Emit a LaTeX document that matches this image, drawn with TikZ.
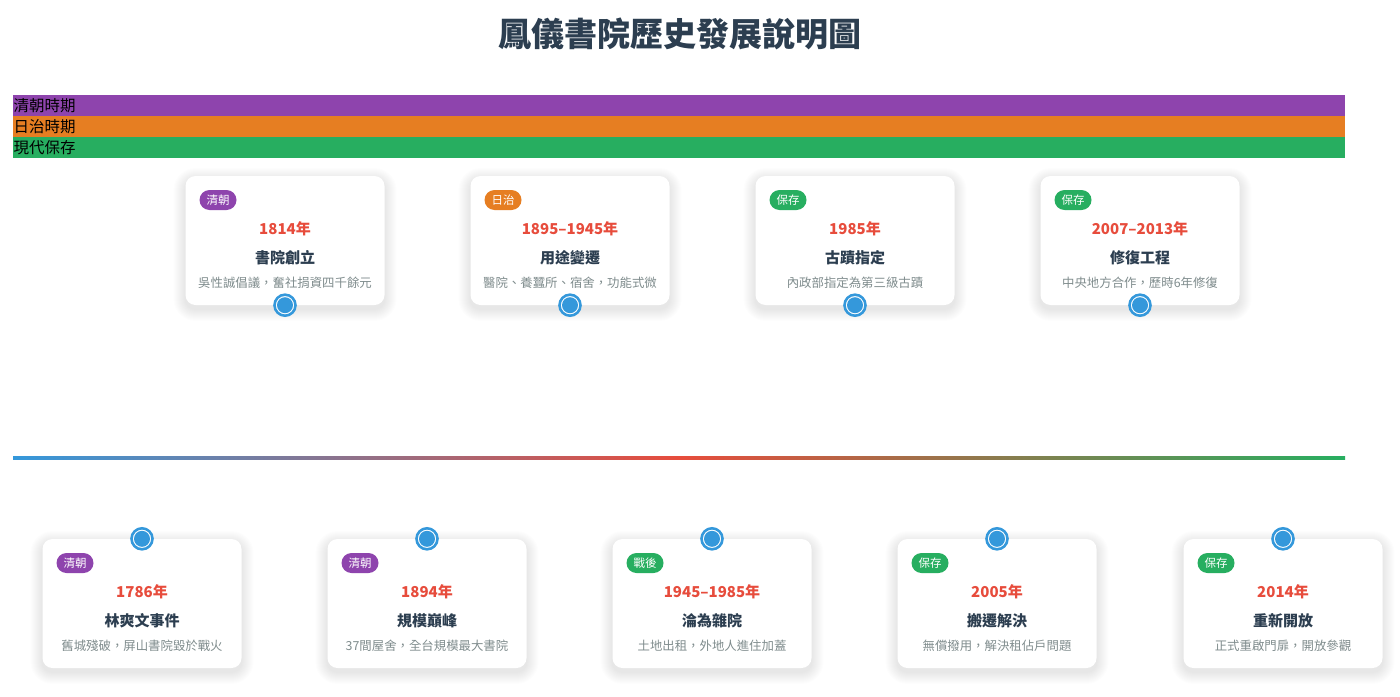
\documentclass[tikz,border=0pt]{standalone}
\usepackage{fontspec}
\setmainfont{Noto Sans CJK TC}
\definecolor{navy}{HTML}{2C3E50}
\definecolor{qpurple}{HTML}{8E44AD}
\definecolor{jorange}{HTML}{E67E22}
\definecolor{mgreen}{HTML}{27AE60}
\definecolor{yred}{HTML}{E74C3C}
\definecolor{dotblue}{HTML}{3498DB}
\definecolor{descgray}{HTML}{7F8C8D}
\tikzset{
  card/.style={fill=white, rounded corners=10pt, minimum width=199pt, minimum height=129pt, inner sep=0pt},
  shadowlayer/.style={fill=black, fill opacity=0.0065},
  badge/.style={rounded corners=10pt, minimum height=20pt, inner xsep=7pt, inner ysep=0pt, text=white,
    font=\fontsize{11.5}{12}\selectfont},
  yeartxt/.style={text=yred, font=\fontsize{15}{16}\selectfont\bfseries, inner sep=0pt},
  titletxt/.style={text=navy, font=\fontsize{15}{16}\selectfont\bfseries, inner sep=0pt},
  desctxt/.style={text=descgray, font=\fontsize{12.4}{13}\selectfont, inner sep=0pt},
  bandtxt/.style={text=black, font=\fontsize{15.5}{16}\selectfont, inner sep=0pt, anchor=west},
  dot/.style={circle, draw=dotblue, line width=2.6pt, fill=white, minimum size=21pt, inner sep=0pt,
    path picture={\fill[dotblue] (path picture bounding box.center) circle (8pt);}},
}
\newcommand\evcard[8]{%
  \foreach \i in {1,...,12} {
    \fill[shadowlayer, rounded corners=10pt+\i pt] (#2-99.5-\i, #3-\i+4) rectangle (#2+99.5+\i, #3+129+\i+4);
  }
  \node[card] (#1) at (#2, #3+64.5) {};
  \node[badge, fill=#4] (#1b) at (#2-67, #3+24) {#5};
  \node[yeartxt] (#1y) at (#2, #3+52.5) {#6};
  \node[titletxt] (#1t) at (#2, #3+82) {#7};
  \node[desctxt] (#1d) at (#2, #3+107) {#8};
}
\begin{document}
\begin{tikzpicture}[x=1pt, y=-1pt]
\useasboundingbox (0,0) rectangle (1400,696);
\fill[white] (0,0) rectangle (1400,696);
\node[text=navy, font=\fontsize{33}{36}\selectfont\bfseries, inner sep=0pt] (title) at (680,34) {鳳儀書院歷史發展說明圖};
% period bands
\fill[qpurple] (13,95) rectangle (1345,116);
\fill[jorange] (13,116) rectangle (1345,137);
\fill[mgreen] (13,137) rectangle (1345,158);
\node[bandtxt] (b1) at (13.5,105.5) {清朝時期};
\node[bandtxt] (b2) at (13.5,126.5) {日治時期};
\node[bandtxt] (b3) at (13.5,147.5) {現代保存};
% central gradient line
\shade[left color=dotblue, right color=mgreen, middle color=yred] (13,456.5) rectangle (1345,459.5);
% top cards
\evcard{c1}{285}{176}{qpurple}{清朝}{1814年}{書院創立}{吳性誠倡議，奮社捐資四千餘元}
\evcard{c2}{570}{176}{jorange}{日治}{1895–1945年}{用途變遷}{醫院、養蠶所、宿舍，功能式微}
\evcard{c3}{855}{176}{mgreen}{保存}{1985年}{古蹟指定}{內政部指定為第三級古蹟}
\evcard{c4}{1140}{176}{mgreen}{保存}{2007–2013年}{修復工程}{中央地方合作，歷時6年修復}
% bottom cards
\evcard{d1}{142}{539}{qpurple}{清朝}{1786年}{林爽文事件}{舊城殘破，屏山書院毀於戰火}
\evcard{d2}{427}{539}{qpurple}{清朝}{1894年}{規模巔峰}{37間屋舍，全台規模最大書院}
\evcard{d3}{712}{539}{mgreen}{戰後}{1945–1985年}{淪為雜院}{土地出租，外地人進住加蓋}
\evcard{d4}{997}{539}{mgreen}{保存}{2005年}{搬遷解決}{無償撥用，解決租佔戶問題}
\evcard{d5}{1283}{539}{mgreen}{保存}{2014年}{重新開放}{正式重啟門扉，開放參觀}
% dots
\foreach \n in {c1,c2,c3,c4} {\node[dot] (\n p) at (\n.south) {};}
\foreach \n in {d1,d2,d3,d4,d5} {\node[dot] (\n p) at (\n.north) {};}
\end{tikzpicture}
\end{document}
